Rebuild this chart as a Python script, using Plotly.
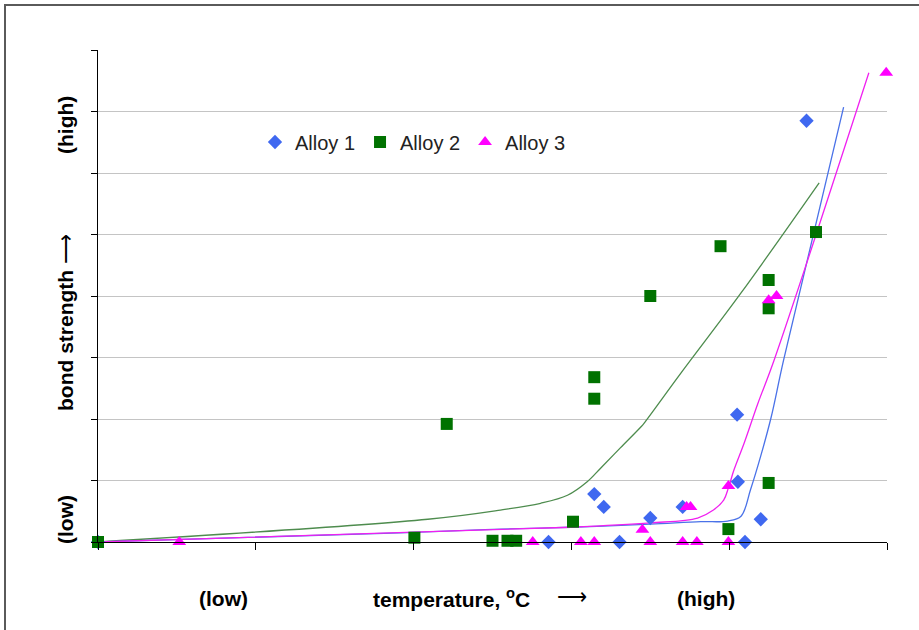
import plotly.graph_objects as go

# ---- data (arbitrary units: x 0-10 temperature, y 0-8 bond strength)
alloy1_x = [0.0, 5.71, 6.29, 6.41, 6.61, 7.00, 7.41, 8.10, 8.11, 8.20, 8.40, 8.98]
alloy1_y = [0.0, 0.00, 0.78, 0.57, 0.00, 0.39, 0.57, 2.07, 0.98, 0.00, 0.37, 6.85]

alloy2_x = [0.0, 4.01, 4.42, 5.00, 5.19, 5.30, 6.02, 6.29, 6.29, 7.00, 7.89, 7.99, 8.50, 8.50, 8.50, 9.10]
alloy2_y = [0.0, 0.07, 1.92, 0.02, 0.02, 0.02, 0.33, 2.33, 2.68, 4.00, 4.81, 0.21, 0.96, 3.80, 4.26, 5.04]

alloy3_x = [1.03, 5.51, 6.12, 6.29, 6.90, 7.00, 7.41, 7.46, 7.51, 7.59, 7.99, 7.99, 8.50, 8.60, 9.99]
alloy3_y = [0.00, 0.00, 0.00, 0.00, 0.20, 0.00, 0.00, 0.57, 0.57, 0.00, 0.91, 0.00, 3.93, 4.00, 7.63]

# trend curves
trend1_x = [0.0, 3.83, 5.10, 5.99, 7.00, 7.64, 7.98, 8.15, 8.27, 8.40, 8.53, 8.69, 9.45]
trend1_y = [0.0, 0.15, 0.21, 0.24, 0.29, 0.33, 0.34, 0.42, 0.85, 1.40, 2.02, 2.96, 7.07]

trend2_x = [0.0, 4.18, 5.10, 5.61, 5.95, 6.20, 6.37, 6.62, 6.88, 6.92, 7.39, 8.15, 9.14]
trend2_y = [0.0, 0.37, 0.52, 0.63, 0.76, 0.98, 1.20, 1.53, 1.87, 1.93, 2.75, 4.05, 5.84]

trend3_x = [0.0, 5.99, 7.00, 7.60, 7.80, 7.93, 7.99, 8.06, 8.19, 8.36, 8.57, 9.77]
trend3_y = [0.0, 0.24, 0.31, 0.39, 0.52, 0.68, 0.88, 1.17, 1.61, 2.24, 2.96, 7.63]

series_names = ["Alloy 1", "Alloy 2", "Alloy 3"]

BLUE = "#3F68F0"
GREEN = "#007200"
MAGENTA = "#FF00FF"
FONT = "Liberation Sans, Arial, sans-serif"

fig = go.Figure()

# trend lines (drawn first, under markers)
fig.add_trace(go.Scatter(x=trend2_x, y=trend2_y, mode="lines", line=dict(color="#4E8C4E", width=1.3),
                         showlegend=False, hoverinfo="skip", line_shape="spline"))
fig.add_trace(go.Scatter(x=trend1_x, y=trend1_y, mode="lines", line=dict(color="#4A72E8", width=1.3),
                         showlegend=False, hoverinfo="skip", line_shape="spline"))
fig.add_trace(go.Scatter(x=trend3_x, y=trend3_y, mode="lines", line=dict(color="#F020F0", width=1.3),
                         showlegend=False, hoverinfo="skip", line_shape="spline"))

fig.add_trace(go.Scatter(x=alloy1_x, y=alloy1_y, mode="markers", name=series_names[0],
                         marker=dict(symbol="diamond", size=11, color=BLUE), cliponaxis=False))
fig.add_trace(go.Scatter(x=alloy2_x, y=alloy2_y, mode="markers", name=series_names[1],
                         marker=dict(symbol="square", size=12, color=GREEN), cliponaxis=False))
fig.add_trace(go.Scatter(x=alloy3_x, y=alloy3_y, mode="markers", name=series_names[2],
                         marker=dict(symbol="triangle-up", size=12, color=MAGENTA), cliponaxis=False))

L, R, T, B = 98, 32, 50, 88
W, H = 919, 630
pw, ph = W - L - R, H - T - B

def px2paper_x(px):
    return (px - L) / pw

def py2paper_y(py):
    return (H - B - py) / ph

fig.update_layout(
    width=W, height=H,
    margin=dict(l=L, r=R, t=T, b=B),
    paper_bgcolor="white", plot_bgcolor="white",
    font=dict(family=FONT, color="black"),
    legend=dict(orientation="h", x=px2paper_x(255), y=py2paper_y(142), xanchor="left", yanchor="middle",
                font=dict(size=20, family=FONT, color="#222"), bgcolor="rgba(0,0,0,0)",
                itemwidth=30, tracegroupgap=0),
    xaxis=dict(range=[0, 10], dtick=2, tick0=0, showgrid=False, zeroline=False,
               showline=True, linecolor="black", linewidth=1,
               ticks="outside", ticklen=7, tickcolor="black", showticklabels=False),
    yaxis=dict(range=[0, 8], dtick=1, tick0=0, showgrid=True, gridcolor="#C4C4C4", gridwidth=1,
               zeroline=False, showline=True, linecolor="black", linewidth=1,
               ticks="outside", ticklen=6, tickcolor="black", showticklabels=False),
    showlegend=True,
)

# outer frame of the original picture (cropped on right and bottom)
fig.add_shape(type="rect", xref="paper", yref="paper",
              x0=px2paper_x(5), x1=px2paper_x(935), y0=py2paper_y(650), y1=py2paper_y(5),
              line=dict(color="#5A5A5A", width=2), fillcolor="rgba(0,0,0,0)", layer="below")

bold = dict(family=FONT, size=21, color="black")
ann = []
# x-axis labels
ann.append(dict(text="<b>(low)</b>", x=px2paper_x(223), y=py2paper_y(598)))
ann.append(dict(text="<b>temperature, <sup>o</sup>C</b>", x=px2paper_x(451), y=py2paper_y(598)))
ann.append(dict(text="⟶", x=px2paper_x(572), y=py2paper_y(596)))
ann.append(dict(text="<b>(high)</b>", x=px2paper_x(706), y=py2paper_y(598)))
for a in ann:
    a.update(xref="paper", yref="paper", showarrow=False, font=bold, xanchor="center", yanchor="middle")
    fig.add_annotation(**a)

# y-axis labels (rotated)
yann = [("<b>(low)</b>", 520), ("<b>bond strength</b> ⟶", 323), ("<b>(high)</b>", 125)]
for txt, py in yann:
    fig.add_annotation(text=txt, xref="paper", yref="paper", x=px2paper_x(65), y=py2paper_y(py),
                       textangle=-90, showarrow=False, font=bold, xanchor="center", yanchor="middle")

fig.write_html("out.html")
